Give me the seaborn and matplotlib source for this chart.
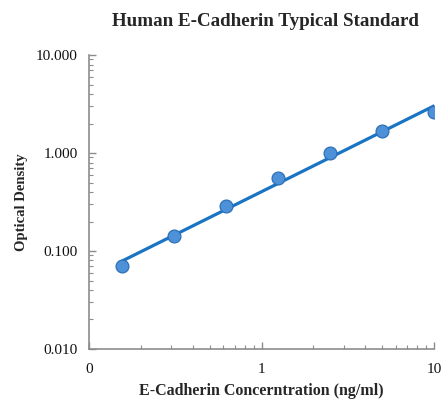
import numpy as np
import pandas as pd
import matplotlib
matplotlib.use("Agg")
import matplotlib.pyplot as plt
import seaborn as sns
from matplotlib.ticker import FixedLocator, LogLocator, NullFormatter

# Data
concentration = [0.156, 0.3125, 0.625, 1.25, 2.5, 5.0, 10.0]
optical_density = [0.070, 0.142, 0.288, 0.552, 0.99, 1.66, 2.60]
x_tick_values = [0.1, 1, 10]
x_tick_labels = ["0", "1", "10"]
y_tick_values = [0.01, 0.1, 1, 10]
y_tick_labels = ["0.010", "0.100", "1.000", "10.000"]

df = pd.DataFrame({"conc": concentration, "od": optical_density})

sns.set_theme(style="white")
plt.rcParams["font.family"] = ["Liberation Serif", "DejaVu Serif"]

fig = plt.figure(figsize=(4.44, 4.03), dpi=100)
ax = fig.add_axes([0.2005, 0.134, 0.777, 0.7295])

# log-log linear fit
coef = np.polyfit(np.log10(df["conc"]), np.log10(df["od"]), 1)
fit_x = np.array([df["conc"].min(), df["conc"].max()])
fit_y = 10 ** np.polyval(coef, np.log10(fit_x))
fit_df = pd.DataFrame({"conc": fit_x, "od": fit_y})

sns.lineplot(data=fit_df, x="conc", y="od", ax=ax, color="#1a74c4", linewidth=2.3, zorder=2)
sns.scatterplot(data=df, x="conc", y="od", ax=ax, s=85, color="#4d92d9",
                edgecolor="#2d6fb8", linewidth=0.9, zorder=3)

ax.set_xscale("log")
ax.set_yscale("log")
ax.set_xlim(0.1, 10)
ax.set_ylim(0.01, 10)

ax.xaxis.set_major_locator(FixedLocator(x_tick_values))
ax.set_xticklabels(x_tick_labels)
ax.yaxis.set_major_locator(FixedLocator(y_tick_values))
ax.set_yticklabels(y_tick_labels)
ax.xaxis.set_minor_locator(LogLocator(base=10, subs=np.arange(2, 10)))
ax.yaxis.set_minor_locator(LogLocator(base=10, subs=np.arange(2, 10)))
ax.xaxis.set_minor_formatter(NullFormatter())
ax.yaxis.set_minor_formatter(NullFormatter())

for s in ["top", "right"]:
    ax.spines[s].set_visible(False)
for s in ["left", "bottom"]:
    ax.spines[s].set_color("#8c8c8c")
    ax.spines[s].set_linewidth(1.2)

ax.tick_params(axis="both", which="major", direction="in", length=5, width=1,
               color="#8c8c8c", labelsize=11, labelcolor="#111111")
ax.tick_params(axis="both", which="minor", direction="in", length=3, width=0.8,
               color="#8c8c8c")
ax.tick_params(axis="x", which="both", bottom=True, pad=10)
ax.tick_params(axis="y", which="both", left=True, pad=8)

ax.set_xlabel("E-Cadherin Concerntration (ng/ml)", fontsize=11.5, fontweight="bold", labelpad=5)
ax.set_ylabel("Optical Density", fontsize=10.5, fontweight="bold", labelpad=6)
fig.text(0.597, 0.947, "Human E-Cadherin Typical Standard", fontsize=13.7,
         fontweight="bold", ha="center", va="center")

fig.savefig("out.png", dpi=100)
